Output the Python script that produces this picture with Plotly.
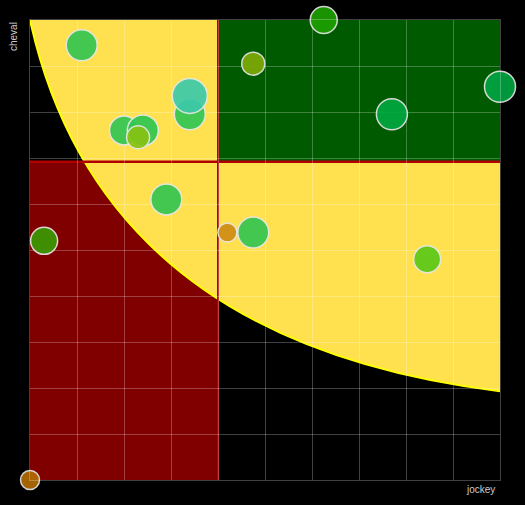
import plotly.graph_objects as go

# --- data ---
jockey = [1.1, 2.0, 2.4, 2.3, 3.4, 3.4, 4.75, 6.25, 7.7, 10.0, 0.3, 2.9, 4.2, 4.75, 8.45, 0.0]
cheval = [9.45, 7.6, 7.6, 7.45, 7.95, 8.35, 9.05, 10.0, 7.95, 8.55, 5.2, 6.1, 5.38, 5.38, 4.8, 0.0]
weight = [15.5, 14.5, 15.5, 11.5, 15.5, 17.5, 11.5, 13.5, 15.5, 15.5, 13.5, 15.5, 9.5, 15.5, 13.5, 9.5]
colors = ["#34c552", "#33c653", "#2fc650", "#86c214", "#30c654", "#3ccaa8", "#7daa05", "#1ea000",
          "#00a840", "#00a442", "#3a9a00", "#34c552", "#d08c14", "#34c552", "#5ac818", "#b06c00"]

X_RANGE = [0, 10]
Y_RANGE = [0, 10]
X_SPLIT = 4.0
Y_SPLIT = 6.92
# quadratic curve bounding the yellow zone: start, control, end
CURVE_START = (0.0, 10.0)
CURVE_CTRL = (1.5, 3.0)
CURVE_END = (10.0, 1.93)

fig = go.Figure()
fig.add_trace(go.Scatter(
    x=jockey, y=cheval, mode="markers", cliponaxis=False,
    marker=dict(size=weight, sizemode="diameter", sizeref=0.5, color=colors, opacity=0.92,
                line=dict(color="#e6e6e6", width=1.5)),
    hoverinfo="x+y", showlegend=False))

curve = f"M {CURVE_START[0]},{CURVE_START[1]} Q {CURVE_CTRL[0]},{CURVE_CTRL[1]} {CURVE_END[0]},{CURVE_END[1]}"
shapes = [
    dict(type="rect", xref="x", yref="y", x0=X_RANGE[0], x1=X_SPLIT, y0=Y_RANGE[0], y1=Y_SPLIT,
         fillcolor="#800000", line=dict(width=0), layer="below"),
    dict(type="path", xref="x", yref="y", path=curve + f" L {X_RANGE[1]},{Y_RANGE[1]} Z",
         fillcolor="#ffe14f", line=dict(width=0), layer="below"),
    dict(type="path", xref="x", yref="y", path=curve,
         fillcolor="rgba(0,0,0,0)", line=dict(color="#ffff00", width=2), layer="below"),
    dict(type="rect", xref="x", yref="y", x0=X_SPLIT, x1=X_RANGE[1], y0=Y_SPLIT, y1=Y_RANGE[1],
         fillcolor="#005a00", line=dict(width=0), layer="below"),
    dict(type="line", xref="x", yref="y", x0=X_SPLIT, x1=X_SPLIT, y0=Y_RANGE[0], y1=Y_RANGE[1],
         line=dict(color="#b00000", width=2), layer="below"),
    dict(type="line", xref="x", yref="y", x0=X_RANGE[0], x1=X_RANGE[1], y0=Y_SPLIT, y1=Y_SPLIT,
         line=dict(color="#b00000", width=2.5), layer="below"),
]

grid = "rgba(255,255,255,0.25)"
fig.update_layout(
    width=525, height=505,
    margin=dict(l=30, r=25, t=20, b=25),
    paper_bgcolor="#000000", plot_bgcolor="#000000",
    shapes=shapes,
    xaxis=dict(range=X_RANGE, dtick=1, showticklabels=False, gridcolor=grid, gridwidth=1,
               zeroline=False, showline=True, linecolor=grid, mirror=True, fixedrange=True),
    yaxis=dict(range=Y_RANGE, dtick=1, showticklabels=False, gridcolor=grid, gridwidth=1,
               zeroline=False, showline=True, linecolor=grid, mirror=True, fixedrange=True),
    annotations=[
        dict(text="jockey", xref="paper", yref="paper", x=1, y=0, xanchor="right", yanchor="top",
             yshift=-2, xshift=-3, showarrow=False, font=dict(family="Liberation Sans, Arial", size=10, color="#cccccc")),
        dict(text="cheval", xref="paper", yref="paper", x=0, y=1, xanchor="right", yanchor="top",
             xshift=-9, textangle=-90, showarrow=False, font=dict(family="Liberation Sans, Arial", size=10, color="#cccccc")),
    ],
    font=dict(family="Liberation Sans, Arial"),
)

fig.write_html("out.html", config={"displayModeBar": False},
               post_script="document.body.style.margin='0';document.body.style.background='#000';")
